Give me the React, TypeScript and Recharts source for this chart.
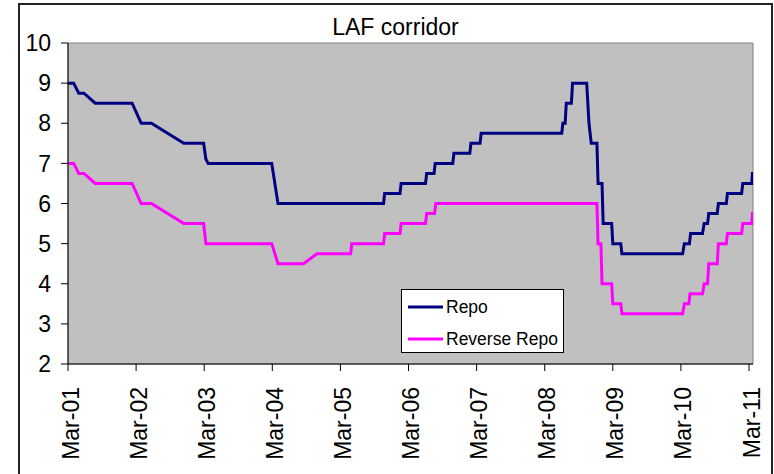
import React from "react";
import { LineChart, Line, XAxis, YAxis, ReferenceArea, Legend } from "recharts";

// months since Mar-2001
const repoMonths = [0, 1, 1.9, 2.8, 4.8, 11.3, 12.9, 14.7, 20.4, 23.9, 24.3, 24.7, 35.9, 37, 55.6, 55.8, 58.5, 58.7, 63.0, 63.2, 64.5, 64.7, 67.8, 68.0, 70.8, 71.0, 72.6, 72.8, 87.0, 87.2, 87.6, 87.8, 88.7, 88.9, 91.4, 91.8, 92.2, 93.2, 93.4, 94.1, 94.3, 95.8, 96.0, 97.4, 97.6, 108.3, 108.6, 109.5, 109.7, 111.8, 112.1, 112.7, 112.9, 114.4, 114.6, 116.0, 116.2, 118.7, 118.9, 120.5, 120.6, 120.7];
const repoValues = [9, 9, 8.75, 8.75, 8.5, 8.5, 8.0, 8.0, 7.5, 7.5, 7.1, 7.0, 7.0, 6.0, 6.0, 6.25, 6.25, 6.5, 6.5, 6.75, 6.75, 7.0, 7.0, 7.25, 7.25, 7.5, 7.5, 7.75, 7.75, 8.0, 8.0, 8.5, 8.5, 9.0, 9.0, 8.0, 7.5, 7.5, 6.5, 6.5, 5.5, 5.5, 5.0, 5.0, 4.75, 4.75, 5.0, 5.0, 5.25, 5.25, 5.5, 5.5, 5.75, 5.75, 6.0, 6.0, 6.25, 6.25, 6.5, 6.5, 6.75, 6.75];

const reverseMonths = [0, 1, 1.9, 2.8, 4.8, 11.3, 12.9, 14.7, 20.4, 23.9, 24.3, 35.9, 37, 41.5, 43.9, 49.8, 50.0, 55.6, 55.8, 58.5, 58.7, 63.0, 63.2, 64.6, 64.8, 93.2, 93.4, 93.9, 94.1, 95.8, 96.0, 97.4, 97.6, 108.3, 108.6, 109.4, 109.6, 111.8, 112.1, 112.7, 112.9, 114.4, 114.6, 116.0, 116.2, 118.7, 118.9, 120.5, 120.6, 120.7];
const reverseValues = [7, 7, 6.75, 6.75, 6.5, 6.5, 6.0, 6.0, 5.5, 5.5, 5.0, 5.0, 4.5, 4.5, 4.75, 4.75, 5.0, 5.0, 5.25, 5.25, 5.5, 5.5, 5.75, 5.75, 6.0, 6.0, 5.0, 5.0, 4.0, 4.0, 3.5, 3.5, 3.25, 3.25, 3.5, 3.5, 3.75, 3.75, 4.0, 4.0, 4.5, 4.5, 5.0, 5.0, 5.25, 5.25, 5.5, 5.5, 5.75, 5.75];

const xTicks = [0, 12, 24, 36, 48, 60, 72, 84, 96, 108, 120];
const xTickLabels = ["Mar-01", "Mar-02", "Mar-03", "Mar-04", "Mar-05", "Mar-06", "Mar-07", "Mar-08", "Mar-09", "Mar-10", "Mar-11"];
const yTicks = [2, 3, 4, 5, 6, 7, 8, 9, 10];

const repoData = repoMonths.map((m, i) => ({ m, v: repoValues[i] }));
const reverseData = reverseMonths.map((m, i) => ({ m, v: reverseValues[i] }));

const FONT = "'Liberation Sans', Arial, sans-serif";

const XTick = (props: any) => {
  const { x, y, payload } = props;
  const idx = xTicks.indexOf(payload.value);
  return (
    <text
      x={x}
      y={y}
      transform={`rotate(-90, ${x}, ${y})`}
      textAnchor="end"
      dy={10.5}
      fontSize={23}
      fontFamily={FONT}
      fill="#000"
    >
      {idx >= 0 ? xTickLabels[idx] : ""}
    </text>
  );
};

const LegendBox = () => (
  <div
    style={{
      width: 161,
      height: 62,
      background: "#fff",
      border: "1px solid #000",
      fontFamily: FONT,
      fontSize: 17.5,
      position: "relative",
      boxSizing: "content-box",
    }}
  >
    {[
      { name: "Repo", color: "#000080", y: 17 },
      { name: "Reverse Repo", color: "#FF00FF", y: 49 },
    ].map((e) => (
      <div key={e.name} style={{ position: "absolute", left: 6, top: e.y - 12, height: 24, display: "flex", alignItems: "center" }}>
        <svg width={35} height={24} style={{ display: "block" }}>
          <line x1={0} x2={35} y1={12} y2={12} stroke={e.color} strokeWidth={3} />
        </svg>
        <span style={{ marginLeft: 3, color: "#000", lineHeight: "24px" }}>{e.name}</span>
      </div>
    ))}
  </div>
);

export default function App() {
  return (
    <div style={{ position: "absolute", left: 0, top: 0, width: 774, height: 474, background: "#fff", overflow: "hidden" }}>
      <div
        style={{
          position: "absolute",
          left: 18,
          top: 3,
          width: 751,
          height: 490,
          border: "2px solid #222",
        }}
      />
      <div
        style={{
          position: "absolute",
          left: 18,
          width: 755,
          top: 15.5,
          textAlign: "center",
          fontFamily: FONT,
          fontSize: 23,
          lineHeight: "23px",
          color: "#000",
        }}
      >
        LAF corridor
      </div>
      <div style={{ position: "absolute", left: 0, top: 0 }}>
        <LineChart width={774} height={474} margin={{ top: 43, right: 21, bottom: 0, left: 0 }}>
          <ReferenceArea
            x1={0}
            x2={120.7}
            y1={2}
            y2={10}
            fill="#C0C0C0"
            fillOpacity={1}
            stroke="#808080"
            strokeWidth={1}
            ifOverflow="extendDomain"
          />
          <XAxis
            type="number"
            dataKey="m"
            domain={[0, 120.7]}
            ticks={xTicks}
            interval={0}
            allowDataOverflow
            height={110}
            tickSize={7}
            tickMargin={16}
            tick={<XTick />}
            axisLine={{ stroke: "#000", strokeWidth: 1 }}
            tickLine={{ stroke: "#000", strokeWidth: 1 }}
          />
          <YAxis
            type="number"
            domain={[2, 10]}
            ticks={yTicks}
            interval={0}
            width={68}
            tickSize={7}
            tickMargin={10}
            tick={{ fontSize: 23, fontFamily: FONT, fill: "#000" }}
            axisLine={{ stroke: "#000", strokeWidth: 1 }}
            tickLine={{ stroke: "#000", strokeWidth: 1 }}
          />
          <Line
            data={repoData}
            dataKey="v"
            name="Repo"
            type="linear"
            stroke="#000080"
            strokeWidth={3}
            dot={false}
            activeDot={false}
            isAnimationActive={false}
          />
          <Line
            data={reverseData}
            dataKey="v"
            name="Reverse Repo"
            type="linear"
            stroke="#FF00FF"
            strokeWidth={3}
            dot={false}
            activeDot={false}
            isAnimationActive={false}
          />
          <Legend
            layout="horizontal"
            verticalAlign="middle"
            align="center"
            content={<LegendBox />}
            wrapperStyle={{ position: "absolute", left: 401, top: 289, width: 163, height: 64 }}
          />
        </LineChart>
      </div>
    </div>
  );
}
